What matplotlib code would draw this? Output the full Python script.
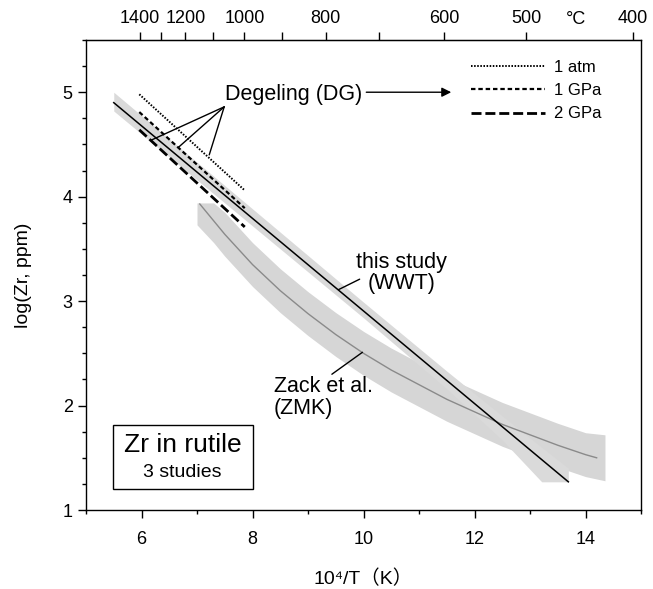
import numpy as np
import matplotlib.pyplot as plt
from matplotlib.lines import Line2D
from matplotlib.patches import Rectangle
from matplotlib.ticker import MultipleLocator

plt.rcParams['font.family'] = ['Liberation Sans', 'DejaVu Sans', 'Noto Sans CJK JP']

# this study (WWT): straight calibration line and its uncertainty band
wwt_x = [5.50, 13.69]
wwt_y = [4.90, 1.27]
wwt_band_x = [5.50, 7.00, 8.50, 10.00, 11.50, 12.50, 13.21, 13.69]
wwt_band_hi = [5.00, 4.33, 3.66, 2.99, 2.33, 1.90, 1.60, 1.40]
wwt_band_lo = [4.82, 4.16, 3.50, 2.84, 2.16, 1.67, 1.27, 1.27]

# Zack et al. (ZMK)
zmk_x = [7.05, 7.5, 8.0, 8.5, 9.0, 9.5, 10.0, 10.5, 11.0, 11.5, 12.0, 12.5, 13.0, 13.5, 14.0, 14.2]
zmk_y = [3.93, 3.64, 3.35, 3.10, 2.88, 2.68, 2.50, 2.34, 2.20, 2.06, 1.94, 1.82, 1.72, 1.62, 1.53, 1.50]
zmk_band_x = [7.0, 7.3, 7.5, 8.0, 8.5, 9.0, 9.5, 10.0, 10.5, 11.0, 11.5, 12.0, 12.5, 13.0, 13.5, 14.0, 14.35]
zmk_band_hi = [3.94, 3.94, 3.85, 3.56, 3.31, 3.09, 2.89, 2.71, 2.55, 2.41, 2.27, 2.15, 2.03, 1.93, 1.83, 1.74, 1.72]
zmk_band_lo = [3.73, 3.56, 3.43, 3.14, 2.89, 2.67, 2.47, 2.29, 2.13, 1.99, 1.85, 1.73, 1.61, 1.51, 1.41, 1.32, 1.28]

# Degeling (DG)
dg_x = [5.96, 7.86]
dg_1atm = [4.98, 4.06]
dg_1gpa = [4.81, 3.89]
dg_2gpa = [4.64, 3.71]

# top axis temperatures (deg C)
top_labeled = [1400, 1200, 1000, 800, 600, 500, 400]
top_unlabeled = [1300, 1100, 900, 700]

style_1atm = dict(color='black', lw=1.4, linestyle=(0, (0.8, 0.8)))
style_1gpa = dict(color='black', lw=1.6, linestyle=(0, (2.0, 1.3)))
style_2gpa = dict(color='black', lw=2.0, linestyle=(0, (3.6, 1.4)))

fig = plt.figure(figsize=(6.53, 5.89), dpi=100)
ax = fig.add_axes([0.1317, 0.1341, 0.85, 0.798])

ax.fill_between(zmk_band_x, zmk_band_lo, zmk_band_hi, color='#d6d6d6', lw=0, zorder=1)
ax.fill_between(wwt_band_x, wwt_band_lo, wwt_band_hi, color='#dadada', lw=0, zorder=2)
ax.plot(zmk_x, zmk_y, color='#8a8a8a', lw=1.0, zorder=3)
ax.plot(wwt_x, wwt_y, color='black', lw=1.1, zorder=4)

ax.plot(dg_x, dg_1atm, zorder=5, **style_1atm)
ax.plot(dg_x, dg_1gpa, zorder=5, **style_1gpa)
ax.plot(dg_x, dg_2gpa, zorder=5, **style_2gpa)

# annotations
ax.text(8.74, 4.98, 'Degeling (DG)', fontsize=15.5, ha='center', va='center')
for end in [(6.17, 4.54), (6.66, 4.47), (7.22, 4.40)]:
    ax.annotate('', xy=end, xytext=(7.49, 4.86),
                arrowprops=dict(arrowstyle='-', color='black', lw=1.0, shrinkA=0, shrinkB=0))
ax.annotate('', xy=(11.58, 5.0), xytext=(10.05, 5.0),
            arrowprops=dict(arrowstyle='-|>', color='black', lw=1.0,
                            mutation_scale=14, shrinkA=0, shrinkB=0))

ax.text(10.68, 3.27, 'this study\n(WWT)', fontsize=15.5, ha='center', va='center',
        linespacing=1.05)
ax.annotate('', xy=(9.55, 3.11), xytext=(9.93, 3.21),
            arrowprops=dict(arrowstyle='-', color='black', lw=1.0, shrinkA=0, shrinkB=0))

ax.text(8.38, 2.08, 'Zack et al.\n(ZMK)', fontsize=15.5, ha='left', va='center',
        linespacing=1.05)
ax.annotate('', xy=(9.98, 2.51), xytext=(9.43, 2.30),
            arrowprops=dict(arrowstyle='-', color='black', lw=1.0, shrinkA=0, shrinkB=0))

# box label
ax.add_patch(Rectangle((5.48, 1.20), 2.52, 0.61, fill=False, ec='black', lw=1.0, zorder=6))
ax.text(6.74, 1.62, 'Zr in rutile', fontsize=19, ha='center', va='center')
ax.text(6.74, 1.36, '3 studies', fontsize=14, ha='center', va='center')

# legend
handles = [Line2D([], [], **style_1atm), Line2D([], [], **style_1gpa), Line2D([], [], **style_2gpa)]
ax.legend(handles, ['1 atm', '1 GPa', '2 GPa'], loc='upper left', bbox_to_anchor=(0.694, 0.958),
          frameon=False, fontsize=12, handlelength=4.4, handletextpad=0.55,
          labelspacing=0.5, borderpad=0, borderaxespad=0)

ax.set_xlim(5, 15)
ax.set_ylim(1, 5.5)
ax.set_xticks([6, 8, 10, 12, 14])
ax.xaxis.set_minor_locator(MultipleLocator(1))
ax.set_yticks([1, 2, 3, 4, 5])
ax.yaxis.set_minor_locator(MultipleLocator(0.25))
ax.tick_params(which='major', direction='out', length=6, width=1, labelsize=13)
ax.tick_params(which='minor', direction='out', length=3, width=1)
ax.tick_params(axis='x', which='major', pad=9)
ax.tick_params(top=False, right=False, which='both')
ax.set_xlabel('10⁴/T（K）', fontsize=14, labelpad=16)
ax.set_ylabel('log(Zr, ppm)', fontsize=14, labelpad=22)
for s in ax.spines.values():
    s.set_linewidth(1.0)


def k_to_c(x):
    with np.errstate(divide='ignore'):
        return 1e4 / np.asarray(x, dtype=float) - 273.15


def c_to_k(t):
    with np.errstate(divide='ignore'):
        return 1e4 / (np.asarray(t, dtype=float) + 273.15)


secax = ax.secondary_xaxis('top', functions=(k_to_c, c_to_k))
secax.set_xticks(top_labeled)
secax.set_xticks(top_unlabeled, minor=True)
secax.set_xticklabels([str(t) for t in top_labeled])
secax.tick_params(which='both', direction='out', length=6, width=1, labelsize=13, pad=3)
secax.tick_params(which='minor', labeltop=False)
ax.text(13.83, 1.043, '°C', transform=ax.get_xaxis_transform(), fontsize=13,
        ha='center', va='center')

fig.savefig('out.png', dpi=100)
